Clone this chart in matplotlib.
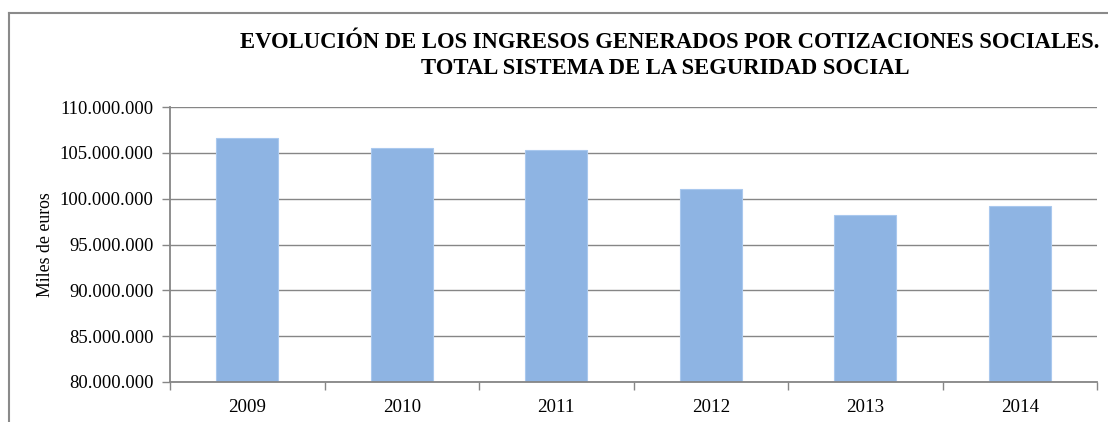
import matplotlib.pyplot as plt
from matplotlib.lines import Line2D
from matplotlib.ticker import FuncFormatter, MultipleLocator, FixedLocator

# Ingresos por cotizaciones sociales (miles de euros)
years = ["2009", "2010", "2011", "2012", "2013", "2014"]
ingresos = [106650000, 105500000, 105340000, 101090000, 98220000, 99200000]

title_l1 = "EVOLUCIÓN DE LOS INGRESOS GENERADOS POR COTIZACIONES SOCIALES."
title_l2 = "TOTAL SISTEMA DE LA SEGURIDAD SOCIAL"

plt.rcParams["font.family"] = ["Liberation Serif", "DejaVu Serif"]

W, H = 1108, 422
fig = plt.figure(figsize=(W / 100, H / 100), dpi=100)
ax = fig.add_axes([170 / W, (H - 382) / H, (1097 - 170) / W, (382 - 107) / H])

axis_grey = "#868686"
x = range(len(years))
ax.bar(x, ingresos, width=0.40, color="#8EB4E3", edgecolor="#A9C8EE",
       linewidth=0.8, zorder=2)

ax.set_ylim(80000000, 110000000)
ax.set_xlim(-0.5, len(years) - 0.5)
ax.yaxis.set_major_locator(MultipleLocator(5000000))
ax.yaxis.set_major_formatter(
    FuncFormatter(lambda v, _: f"{int(v):,}".replace(",", ".")))
ax.grid(axis="y", color=axis_grey, linewidth=1.0, zorder=0)
ax.set_axisbelow(True)

# category labels centred, tick marks on the category boundaries
ax.set_xticks(list(x))
ax.set_xticklabels(years)
ax.tick_params(axis="x", which="major", length=0, pad=12, labelsize=13.6)
ax.xaxis.set_minor_locator(FixedLocator([i - 0.5 for i in range(len(years) + 1)]))
ax.tick_params(axis="x", which="minor", length=6, width=1.0, color=axis_grey,
               direction="out")
ax.tick_params(axis="y", length=6, width=1.0, color=axis_grey, pad=6,
               labelsize=13.4)

for side in ("top", "right"):
    ax.spines[side].set_visible(False)
for side in ("left", "bottom"):
    ax.spines[side].set_color(axis_grey)
    ax.spines[side].set_linewidth(1.3)

ax.set_ylabel("Miles de euros", fontsize=12.8, labelpad=4)

fig.text(670 / W, 1 - 42 / H, title_l1, ha="center", va="center",
         fontsize=16.3, fontweight="bold")
fig.text(665 / W, 1 - 69 / H, title_l2, ha="center", va="center",
         fontsize=16.3, fontweight="bold")

# outer chart frame (left and top edges)
fig.add_artist(Line2D([9 / W, 9 / W], [0, 1 - 13 / H], transform=fig.transFigure,
                      color="#8a8a8a", linewidth=1.5))
fig.add_artist(Line2D([9 / W, 1], [1 - 13 / H, 1 - 13 / H],
                      transform=fig.transFigure, color="#8a8a8a", linewidth=1.5))

fig.savefig("out.png", dpi=100)
